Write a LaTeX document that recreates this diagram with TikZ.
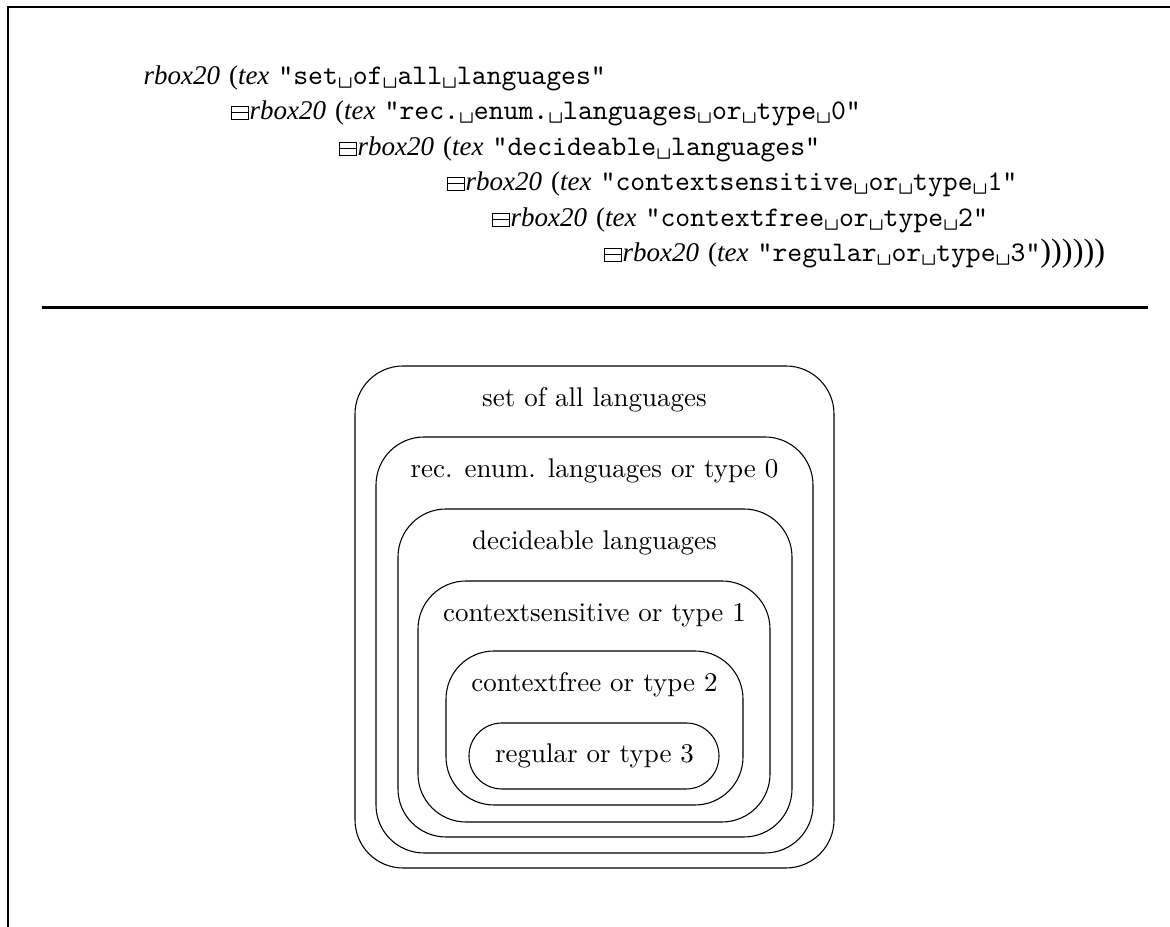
\documentclass[tikz,border=0pt]{standalone}
\usepackage{fontspec}
\newfontfamily\timesfont{Liberation Serif}
\usetikzlibrary{positioning,fit}

% visible blank and the vertical stacking operator
\newcommand\vspc{\textvisiblespace}
\newcommand\stackop{\leavevmode\vbox{\hrule\hbox{\vrule\kern6pt\vrule height 1.7pt}\hrule\hbox{\vrule\kern6pt\vrule height 2.3pt}\hrule}\kern0.3pt}
\newcommand\rbx{{\timesfont\itshape rbox20}}
\newcommand\codeln[1]{\rbx\ {\timesfont(\textit{tex}}\ {\fontsize{10.5}{12}\ttfamily"#1"}}

\begin{document}
\begin{tikzpicture}[
    x=0.3704pt, y=-0.3704pt,
    frame/.style={line width=1.1pt},
    code/.style={anchor=base west, inner sep=0pt, font=\normalsize},
    langbox/.style={draw, inner sep=0pt, rounded corners=17.8pt},
    boxlabel/.style={anchor=base, inner sep=0pt}
]
\useasboundingbox (0,0) rectangle (1170,927);

% frame and separating rule
\draw[frame] (8,927) -- (8,7) -- (1170,7);
\draw[frame] (42,307.5) -- (1148,307.5);

% the expression
\node[code] (ln1) at (143,85) {\codeln{set\vspc of\vspc all\vspc languages}};
\node[code] (ln2) at (230,120) {\stackop\codeln{rec.\vspc enum.\vspc languages\vspc or\vspc type\vspc 0}};
\node[code] (ln3) at (338,156) {\stackop\codeln{decideable\vspc languages}};
\node[code] (ln4) at (446,191) {\stackop\codeln{contextsensitive\vspc or\vspc type\vspc 1}};
\node[code] (ln5) at (491,227) {\stackop\codeln{contextfree\vspc or\vspc type\vspc 2}};
\node[code] (ln6) at (603,262) {\stackop\codeln{regular\vspc or\vspc type\vspc 3}{\timesfont\fontsize{12}{12}\selectfont))))))}};

% nested boxes
\node[langbox, fit={(355,366) (834,868)}] (all) {};
\node[langbox, fit={(376,437) (813,853)}] (recenum) {};
\node[langbox, fit={(398,509) (792,837)}] (decid) {};
\node[langbox, fit={(418,581) (770,822)}] (csens) {};
\node[langbox, fit={(446,651) (743,805)}] (cfree) {};
\node[langbox, rounded corners=12.2pt, fit={(469,723) (719,789)}] (regul) {};

\node[boxlabel] (alllbl) at (594.5,407) {set of all languages};
\node[boxlabel] (recenumlbl) at (594.5,478) {rec. enum. languages or type 0};
\node[boxlabel] (decidlbl) at (594.5,550) {decideable languages};
\node[boxlabel] (csenslbl) at (594.5,622) {contextsensitive or type 1};
\node[boxlabel] (cfreelbl) at (594.5,692) {contextfree or type 2};
\node[boxlabel] (regullbl) at (594.5,763) {regular or type 3};
\end{tikzpicture}
\end{document}
